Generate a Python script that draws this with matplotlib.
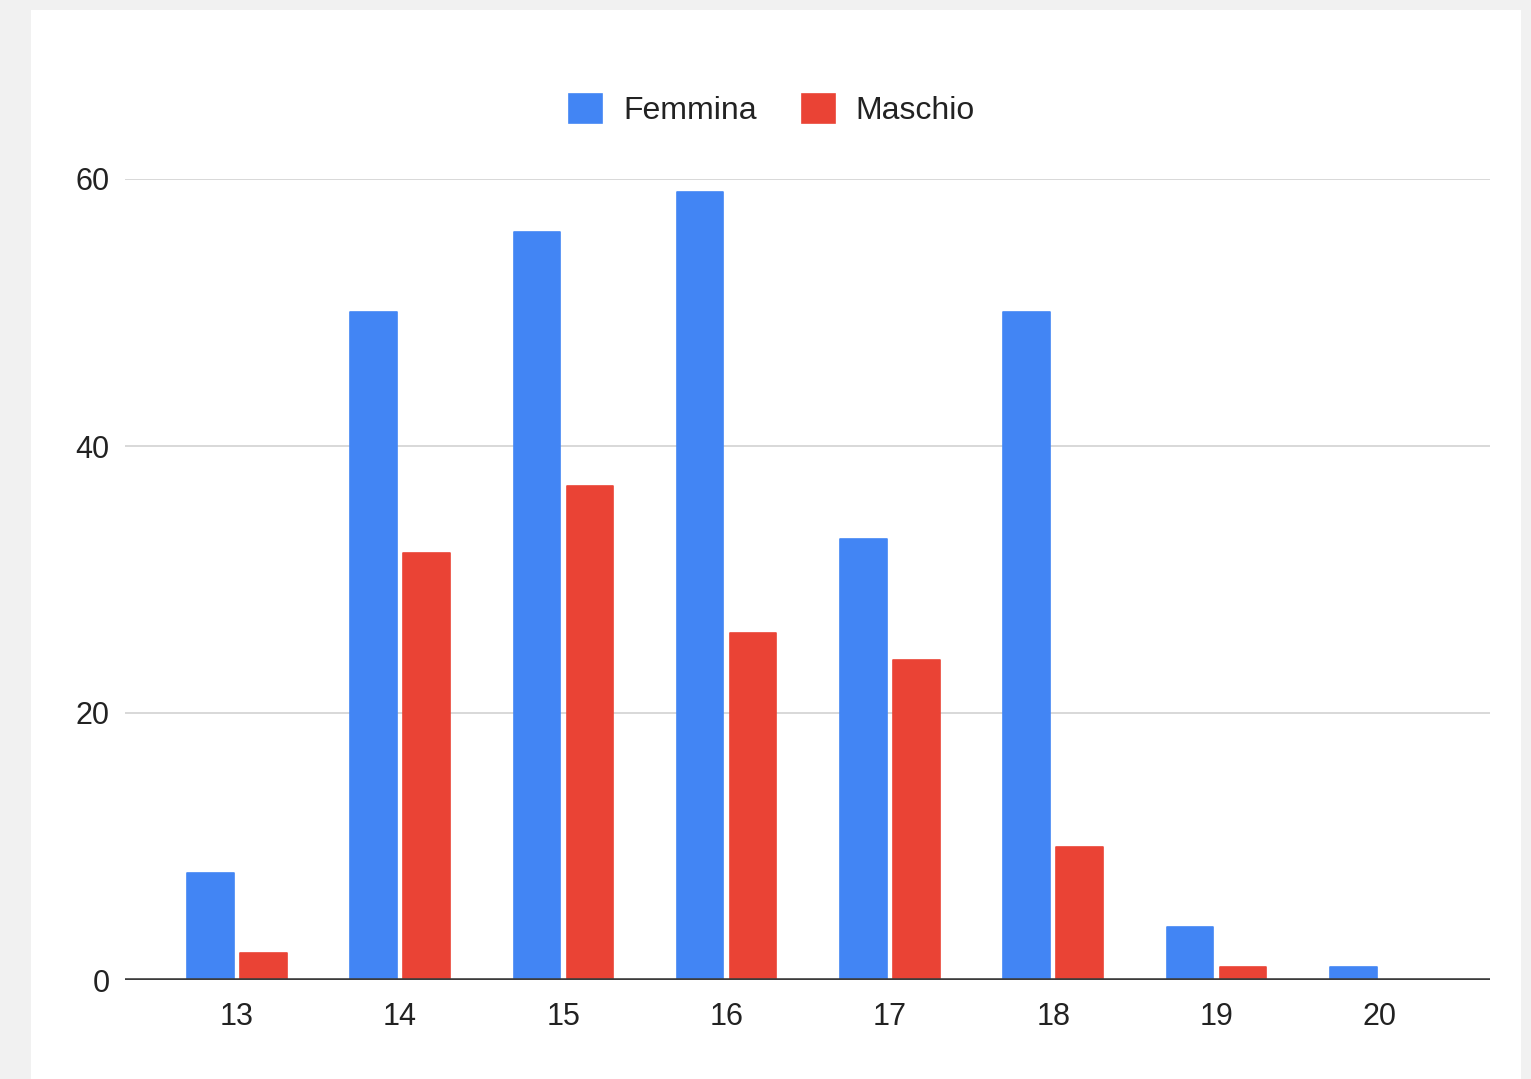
import numpy as np
import matplotlib
matplotlib.use('Agg')
import matplotlib.pyplot as plt

ages = ['13', '14', '15', '16', '17', '18', '19', '20']
femmina = [8, 50, 56, 59, 33, 50, 4, 1]
maschio = [2, 32, 37, 26, 24, 10, 1, 0]

BLUE = '#4285F4'
RED = '#EA4335'

plt.rcParams['font.family'] = ['Liberation Sans', 'DejaVu Sans']

fig = plt.figure(figsize=(15.31, 10.79), dpi=100, facecolor='#f1f1f1')
# white card behind the chart
fig.patches.append(plt.Rectangle((31 / 1531, 0), 1490 / 1531, 1 - 10 / 1079,
                                 transform=fig.transFigure, facecolor='white',
                                 edgecolor='none', zorder=-10))

ax = fig.add_axes([125 / 1531, 1 - 980 / 1079, 1365 / 1531, 801 / 1079])
ax.set_facecolor('none')

x = np.arange(len(ages))
w = 0.285
gap = 0.02
ax.bar(x - w / 2 - gap, femmina, w, color=BLUE, label='Femmina', zorder=3,
       edgecolor=BLUE, linewidth=1.2, joinstyle='round')
ax.bar(x + w / 2 + gap, maschio, w, color=RED, label='Maschio', zorder=3,
       edgecolor=RED, linewidth=1.2, joinstyle='round')

ax.set_xlim(-0.685, len(ages) - 1 + 0.675)
ax.set_ylim(0, 60)
ax.set_yticks([0, 20, 40, 60])
ax.set_xticks(x)
ax.set_xticklabels(ages)
ax.grid(axis='y', color='#d6d6d6', linewidth=1.3, zorder=1)
ax.axhline(0, color='#3c3c3c', linewidth=2.6, zorder=4)
ax.set_axisbelow(True)

for side in ['top', 'right', 'left', 'bottom']:
    ax.spines[side].set_visible(False)
ax.tick_params(axis='both', length=0, labelsize=22, labelcolor='#222222')
ax.tick_params(axis='y', pad=11)
ax.tick_params(axis='x', pad=16)

leg = fig.legend(loc='center', bbox_to_anchor=(772 / 1531, 1 - 110 / 1079),
                 ncol=2, frameon=False, fontsize=23, handlelength=1.05,
                 handleheight=1.05, handletextpad=0.65, columnspacing=1.4)
for t in leg.get_texts():
    t.set_color('#222222')

fig.savefig('out.png', dpi=100, facecolor=fig.get_facecolor())
